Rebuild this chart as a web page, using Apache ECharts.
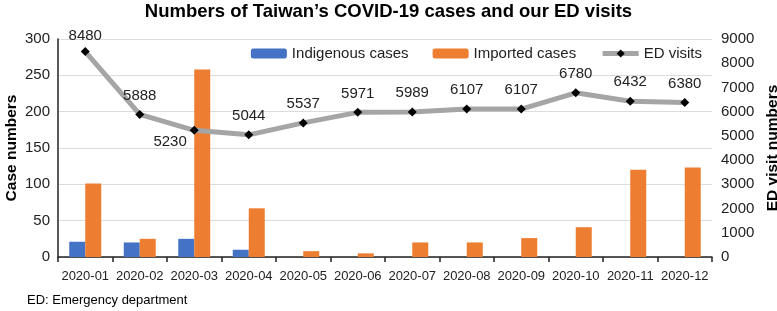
<!DOCTYPE html>
<html>
<head>
<meta charset="utf-8">
<script src="https://cdn.jsdelivr.net/npm/echarts@6/dist/echarts.min.js"></script>
<style>
  html, body { margin: 0; padding: 0; background: #fff; }
  #chart { width: 777px; height: 311px; }
</style>
</head>
<body>
<div id="chart"></div>
<script>
// months on the x axis
const months = ['2020-01', '2020-02', '2020-03', '2020-04', '2020-05', '2020-06',
    '2020-07', '2020-08', '2020-09', '2020-10', '2020-11', '2020-12'];
// case numbers (left axis)
const indigenous = [21, 20, 25, 10, 0, 0, 0, 0, 0, 0, 0, 0];
const imported = [101, 25, 258, 67, 8, 5, 20, 20, 26, 41, 120, 123];
// ED visits (right axis)
const edVisits = [8480, 5888, 5230, 5044, 5537, 5971, 5989, 6107, 6107, 6780, 6432, 6380];

const font = 'Liberation Sans, Arial, sans-serif';

const chart = echarts.init(document.getElementById('chart'));

// label tweaks: first point sits near the top, march label goes below-left
const labelFix = {
    0: { offset: [0, 3] },
    2: { position: 'left', offset: [4, 12] }
};

const option = {
    animation: false,
    textStyle: { fontFamily: font },
    title: {
        text: 'Numbers of Taiwan\u2019s COVID-19 cases and our ED visits',
        left: 'center',
        top: -3,
        textStyle: { fontSize: 18.5, fontWeight: 'bold', color: '#000', fontFamily: font }
    },
    graphic: [{
        type: 'text',
        left: 27,
        top: 294,
        style: { text: 'ED: Emergency department', fontSize: 13, fill: '#000', fontFamily: font }
    }],
    legend: {
        top: 41,
        right: 70,
        itemWidth: 36,
        itemHeight: 10,
        itemGap: 24,
        textStyle: { fontSize: 15, color: '#222', fontFamily: font },
        data: [
            'Indigenous cases',
            'Imported cases',
            { name: 'ED visits', itemStyle: { color: '#000' }, lineStyle: { width: 5, color: '#A5A5A5' } }
        ]
    },
    grid: { left: 58, right: 65, top: 39, bottom: 54, containLabel: false, outerBoundsMode: 'none' },
    xAxis: {
        type: 'category',
        data: months,
        axisLine: { lineStyle: { color: '#222', width: 1.5 } },
        axisTick: { show: true, interval: 0, length: 5, lineStyle: { color: '#222', width: 1.5 } },
        axisLabel: { interval: 0, fontSize: 13, color: '#222', margin: 13 }
    },
    yAxis: [
        {
            type: 'value',
            min: 0, max: 300, interval: 50,
            name: 'Case numbers',
            nameLocation: 'middle',
            nameMoveOverlap: false,
            nameGap: 38,
            nameRotate: 90,
            nameTextStyle: { fontSize: 15.5, fontWeight: 'bold', color: '#000' },
            axisLine: { show: true, lineStyle: { color: '#222', width: 1.5 } },
            axisTick: { show: false },
            axisLabel: { fontSize: 15, color: '#222', margin: 8 },
            splitLine: { lineStyle: { color: '#dcdcdc', width: 1.2 } }
        },
        {
            type: 'value',
            min: 0, max: 9000, interval: 1000,
            name: 'ED visit numbers',
            nameLocation: 'middle',
            nameMoveOverlap: false,
            nameGap: 53,
            nameRotate: 90,
            nameTextStyle: { fontSize: 15.5, fontWeight: 'bold', color: '#000' },
            axisLine: { show: false },
            axisTick: { show: false },
            axisLabel: { fontSize: 15, color: '#222', margin: 9, formatter: (v) => String(v) },
            splitLine: { show: false }
        }
    ],
    series: [
        {
            name: 'Indigenous cases',
            type: 'bar',
            data: indigenous,
            barWidth: 16,
            barGap: '0%',
            itemStyle: { color: '#4472C4' }
        },
        {
            name: 'Imported cases',
            type: 'bar',
            data: imported,
            barWidth: 16,
            itemStyle: { color: '#ED7D31' }
        },
        {
            name: 'ED visits',
            type: 'line',
            yAxisIndex: 1,
            data: edVisits.map((v, i) => labelFix[i] ? { value: v, label: labelFix[i] } : v),
            symbol: 'diamond',
            symbolSize: 9,
            lineStyle: { color: '#A5A5A5', width: 5 },
            itemStyle: { color: '#000' },
            z: 5,
            label: {
                show: true,
                position: 'top',
                distance: 7,
                fontSize: 15,
                color: '#222'
            }
        }
    ]
};

chart.setOption(option);
</script>
</body>
</html>
